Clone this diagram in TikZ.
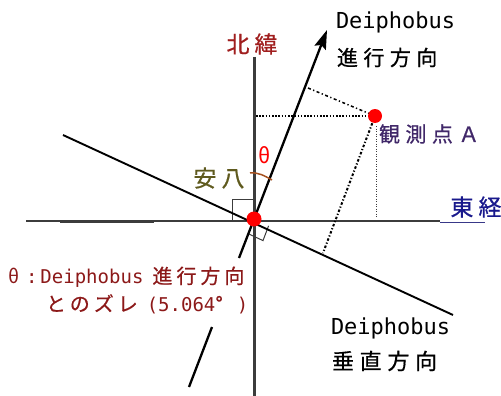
\documentclass[tikz,border=0pt]{standalone}
\usepackage{fontspec}
\setmainfont{Noto Sans CJK JP}
\newfontfamily\jp[LetterSpace=26,FakeBold=0.6]{Noto Sans CJK JP}
\newfontfamily\jpn[LetterSpace=22,FakeBold=0.6]{Noto Sans CJK JP}
\newfontfamily\jpc[LetterSpace=20,FakeBold=0.5]{Noto Sans CJK JP}
\newfontfamily\mono{DejaVu Sans Mono}
\usetikzlibrary{arrows.meta,calc}
\definecolor{axisgray}{RGB}{60,60,60}
\definecolor{nred}{RGB}{160,30,30}
\definecolor{capred}{RGB}{140,25,25}
\definecolor{olivetxt}{RGB}{95,90,30}
\definecolor{purp}{RGB}{65,40,105}
\definecolor{navy2}{RGB}{25,25,140}
\definecolor{arcbrown}{RGB}{165,80,30}
\begin{document}
\begin{tikzpicture}[x=1pt,y=-1pt,
  lbl/.style={inner sep=0pt,outer sep=0pt},
  axisv/.style={draw=axisgray,line width=3pt},
  axish/.style={draw=axisgray,line width=1.4pt},
  dline/.style={draw=black,line width=2.3pt},
  pline/.style={draw=black,line width=1.9pt},
  reddot/.style={circle,fill=red,inner sep=0pt,minimum size=15pt},
  rmark/.style={draw=axisgray,line width=1pt}]
\useasboundingbox (0,0) rectangle (501,396);
% key points
\coordinate (O) at (254,219);
\coordinate (vtop) at (254,57);
\coordinate (vbot) at (254,396);
\coordinate (hl) at (26,221);
\coordinate (hr) at (440,221);
\coordinate (ul) at (440,222.5);
\coordinate (ur) at (485,222.5);
\coordinate (tl) at (60,221);
\coordinate (tr) at (154,221);
\coordinate (tip) at (327,30);
\coordinate (dlow1) at (239,258);
\coordinate (dlow2) at (212,327);
\coordinate (dend) at (189,387);
\coordinate (p1) at (63,135);
\coordinate (p2) at (453,315);
\coordinate (Apos) at (375,116);
\coordinate (hfoot) at (256,116);
\coordinate (dfoot) at (308,88);
\coordinate (pfoot) at (323,253);
\coordinate (vfootT) at (376,126);
\coordinate (vfootB) at (376,217);
% axes
\draw[axisv] (vtop) -- (vbot);
\draw[axish] (hl) -- (hr);
\draw[draw=axisgray,line width=3pt] (tl) -- (tr);
\draw[draw=navy2!70!gray,line width=1.2pt] (ul) -- (ur);
% right angle marks
\draw[rmark] (254,199) -- (232,199) -- (232,221);
\draw[rmark] ($(O)+(-5.6,14.8)$) -- ($(O)+(-5.6,14.8)+(14.6,6.8)$) -- ($(O)+(14.6,6.8)$);
% perpendicular line
\draw[pline] (p1) -- (p2);
% dotted lines
\draw[black,line width=1.8pt,dash pattern=on 1.6pt off 1.6pt] (hfoot) -- (Apos);
\draw[black,line width=1.5pt,dash pattern=on 3pt off 2.5pt on 1.3pt off 2.5pt] (dfoot) -- (Apos);
\draw[black,line width=2pt,dash pattern=on 2.5pt off 2pt on 1.2pt off 2pt] (Apos) -- (pfoot);
\draw[axisgray,line width=1pt,dash pattern=on 1pt off 1.5pt] (vfootT) -- (vfootB);
% direction line
\draw[dline] (dend) -- (dlow2);
\draw[dline,-{Stealth[length=19pt,width=12pt,inset=3pt]}] (dlow1) -- (tip);
% angle arc
\draw[arcbrown,line width=1.5pt] (250,173) .. controls (258,172) and (265,176) .. (272,180);
% dots
\node[reddot] (odot) at (O) {};
\node[reddot,minimum size=14pt] (adot) at (Apos) {};
% labels
\node[lbl,anchor=west,font=\mono\fontsize{22}{22}\selectfont] (dt1) at (336,22) {Deiphobus};
\node[lbl,anchor=west,font=\jp\fontsize{21}{21}\selectfont] (dt2) at (337,57.5) {進行方向};
\node[lbl,text=nred,font=\jpn\fontsize{23}{23}\selectfont] (north) at (252,44) {北緯};
\node[lbl,anchor=west,text=purp,font=\jp\fontsize{21}{21}\selectfont] (obs) at (379,134) {観測点Ａ};
\node[lbl,text=navy2,font=\jpn\fontsize{23}{23}\selectfont] (east) at (476,207) {東経};
\node[lbl,text=olivetxt,font=\jpn\fontsize{23}{23}\selectfont] (anpa) at (219,178) {安八};
\node[lbl,text=red,font=\fontsize{21}{21}\selectfont\itshape] (th) at (265,155) {θ};
\node[lbl,anchor=west,text=capred,font=\fontsize{19}{19}\selectfont] (cap1) at (9,277) {θ\hspace{6pt}\mono :\hspace{3pt}\fontsize{19}{19}\selectfont Deiphobus\hspace{9pt}\jpc\fontsize{20}{20}\selectfont 進行方向};
\node[lbl,anchor=west,text=capred,font=\fontsize{20}{20}\selectfont] (cap2) at (46,304) {\jpc とのズレ\hspace{9pt}\mono\fontsize{19}{19}\selectfont (5.064\jpc\fontsize{20}{20}\selectfont °\hspace{14pt}\mono\fontsize{19}{19}\selectfont )};
\node[lbl,anchor=west,font=\mono\fontsize{22}{22}\selectfont] (pt1) at (331,328) {Deiphobus};
\node[lbl,anchor=west,font=\jp\fontsize{22}{22}\selectfont] (pt2) at (332,361) {垂直方向};
\end{tikzpicture}
\end{document}
